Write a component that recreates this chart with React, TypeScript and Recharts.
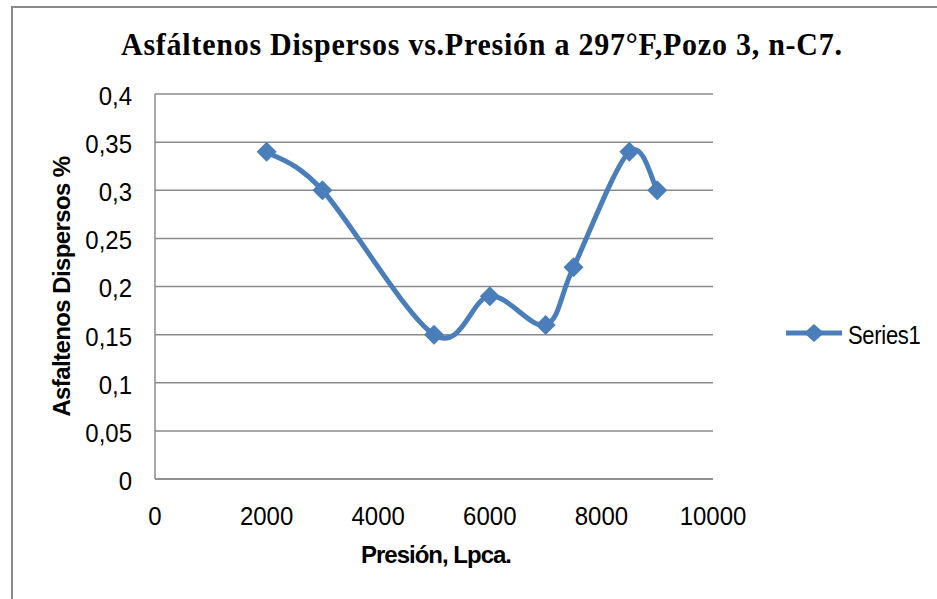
import React from "react";
import { LineChart, Line, XAxis, YAxis, CartesianGrid, Legend } from "recharts";

// Dispersed asphaltenes vs. pressure, well 3, n-C7 at 297 °F
const pressures = [2000, 3000, 5000, 6000, 7000, 7500, 8500, 9000];
const dispersed = [0.34, 0.3, 0.15, 0.19, 0.16, 0.22, 0.34, 0.3];
const xTicks = [0, 2000, 4000, 6000, 8000, 10000];
const yTicks = [0, 0.05, 0.1, 0.15, 0.2, 0.25, 0.3, 0.35, 0.4];
const seriesName = "Series1";
const titleText = "Asfáltenos Dispersos vs.Presión a 297°F,Pozo 3, n-C7.";
const xTitle = "Presión, Lpca.";
const yTitle = "Asfaltenos Dispersos %";

const data = pressures.map((p, i) => ({ p, v: dispersed[i] }));

const BLUE = "#4a7ebb";
const GRID = "#8a8a8a";
const SANS = "Arial, 'Liberation Sans', sans-serif";
const SERIF = "'Times New Roman', 'Liberation Serif', serif";

const W = 937;
const H = 599;

// Smoothed line: cubic Bézier segments with Catmull-Rom style tangents
function smoothCurve(context: any) {
  let pts: number[][] = [];
  return {
    areaStart() {},
    areaEnd() {},
    lineStart() {
      pts = [];
    },
    point(x: number, y: number) {
      pts.push([+x, +y]);
    },
    lineEnd() {
      const n = pts.length;
      if (!n) return;
      context.moveTo(pts[0][0], pts[0][1]);
      for (let i = 0; i < n - 1; i++) {
        const p0 = pts[Math.max(i - 1, 0)];
        const p1 = pts[i];
        const p2 = pts[i + 1];
        const p3 = pts[Math.min(i + 2, n - 1)];
        context.bezierCurveTo(
          p1[0] + (p2[0] - p0[0]) / 6,
          p1[1] + (p2[1] - p0[1]) / 6,
          p2[0] - (p3[0] - p1[0]) / 6,
          p2[1] - (p3[1] - p1[1]) / 6,
          p2[0],
          p2[1]
        );
      }
    },
  };
}

const fmt = (v: number) => String(v).replace(".", ",");

// slight vertical stretch around a baseline
const stretch = (y: number, k: number) => `translate(0 ${y}) scale(1 ${k}) translate(0 ${-y})`;

const Diamond = (props: any) => {
  const { cx, cy } = props;
  if (cx == null || cy == null) return null;
  const r = 10;
  return (
    <path
      d={`M${cx},${cy - r} L${cx + r},${cy} L${cx},${cy + r} L${cx - r},${cy} Z`}
      fill={BLUE}
    />
  );
};

const YTick = (props: any) => {
  const { x, y, payload } = props;
  const by = y + 11;
  return (
    <text
      x={x - 23}
      y={by}
      transform={stretch(by, 1.1)}
      textAnchor="end"
      fontSize={24}
      fontFamily={SANS}
      fill="#000"
    >
      {fmt(payload.value)}
    </text>
  );
};

const XTick = (props: any) => {
  const { x, y, payload } = props;
  const by = y + 46;
  return (
    <text
      x={x}
      y={by}
      transform={stretch(by, 1.1)}
      textAnchor="middle"
      fontSize={24}
      fontFamily={SANS}
      fill="#000"
    >
      {fmt(payload.value)}
    </text>
  );
};

const XTitle = (props: any) => {
  const vb = props.viewBox || {};
  return (
    <text
      x={vb.x + vb.width / 2 + 2}
      y={563}
      textAnchor="middle"
      fontSize={24}
      fontWeight="bold"
      letterSpacing={-1}
      fontFamily={SANS}
      fill="#000"
    >
      {xTitle}
    </text>
  );
};

const YTitle = (props: any) => {
  const vb = props.viewBox || {};
  const cy = vb.y + vb.height / 2;
  return (
    <text
      x={70}
      y={cy}
      transform={`rotate(-90, 70, ${cy})`}
      textAnchor="middle"
      fontSize={24}
      fontWeight="bold"
      letterSpacing={-0.6}
      fontFamily={SANS}
      fill="#000"
    >
      {yTitle}
    </text>
  );
};

const LegendBox = () => (
  <svg width={150} height={40} style={{ overflow: "visible" }}>
    <line x1={6} y1={15} x2={62} y2={15} stroke={BLUE} strokeWidth={5} />
    <path d="M34,6 L44,15 L34,24 L24,15 Z" fill={BLUE} />
    <text
      x={68}
      y={26}
      transform={stretch(26, 1.15)}
      fontSize={22}
      fontFamily={SANS}
      fill="#000"
      letterSpacing={-0.3}
    >
      {seriesName}
    </text>
  </svg>
);

export default function App() {
  return (
    <div style={{ position: "absolute", left: 0, top: 0, width: W, height: H, background: "#fff" }}>
      <svg
        width={W}
        height={H}
        style={{ position: "absolute", left: 0, top: 0, pointerEvents: "none" }}
      >
        <rect x={12} y={7} width={W} height={H} fill="none" stroke={GRID} strokeWidth={2} />
        <text
          x={121}
          y={55}
          transform={stretch(55, 1.08)}
          fontSize={30}
          fontWeight="bold"
          fontFamily={SERIF}
          fill="#000"
          textLength={721}
          lengthAdjust="spacing"
        >
          {titleText}
        </text>
      </svg>
      <div style={{ position: "absolute", left: 0, top: 0 }}>
        <LineChart
          width={W}
          height={H}
          data={data}
          margin={{ top: 94, right: 224, bottom: 80, left: 95 }}
        >
          <CartesianGrid horizontal vertical={false} stroke={GRID} strokeWidth={1.5} />
          <XAxis
            dataKey="p"
            type="number"
            domain={[0, 10000]}
            ticks={xTicks}
            interval={0}
            height={40}
            tickSize={0}
            tickMargin={0}
            tickLine={false}
            axisLine={{ stroke: GRID, strokeWidth: 1.5 }}
            tick={<XTick />}
            label={{ content: <XTitle /> }}
          />
          <YAxis
            type="number"
            domain={[0, 0.4]}
            ticks={yTicks}
            interval={0}
            width={60}
            tickSize={0}
            tickMargin={0}
            tickLine={false}
            axisLine={{ stroke: GRID, strokeWidth: 1.5 }}
            tick={<YTick />}
            label={{ content: <YTitle /> }}
          />
          <Legend
            layout="horizontal"
            verticalAlign="middle"
            align="center"
            wrapperStyle={{ left: 780, top: 318, width: 150, height: 40 }}
            content={() => <LegendBox />}
          />
          <Line
            dataKey="v"
            name={seriesName}
            type={smoothCurve as any}
            stroke={BLUE}
            strokeWidth={5}
            dot={<Diamond />}
            activeDot={false}
            isAnimationActive={false}
          />
        </LineChart>
      </div>
    </div>
  );
}
